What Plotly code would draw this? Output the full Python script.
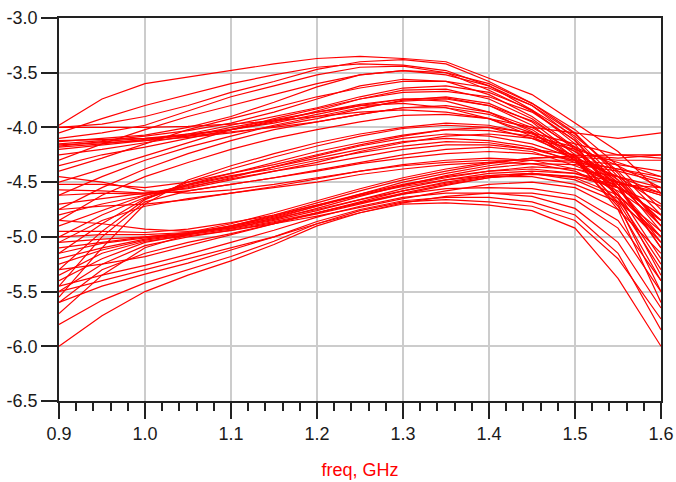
import plotly.graph_objects as go

# Frequency sweep points (GHz)
freq = [0.90, 0.95, 1.00, 1.05, 1.10, 1.15, 1.20, 1.25, 1.30, 1.35, 1.40, 1.45, 1.50, 1.55, 1.60]

# Monte Carlo traces, grouped by where they sit on the plot (dB)
upper_traces = [
    [-3.98, -3.74, -3.60, -3.54, -3.48, -3.42, -3.37, -3.35, -3.37, -3.40, -3.55, -3.70, -3.96, -4.22, -4.60],
    [-4.00, -3.97, -3.90, -3.80, -3.68, -3.58, -3.47, -3.40, -3.38, -3.42, -3.58, -3.78, -4.05, -4.45, -4.90],
    [-4.10, -4.05, -3.98, -3.85, -3.72, -3.62, -3.52, -3.45, -3.44, -3.50, -3.66, -3.85, -4.12, -4.55, -5.10],
    [-4.13, -4.10, -4.07, -4.00, -3.90, -3.77, -3.63, -3.52, -3.48, -3.52, -3.62, -3.80, -4.10, -4.48, -4.95],
    [-4.15, -4.12, -4.08, -4.03, -3.96, -3.86, -3.74, -3.62, -3.56, -3.58, -3.70, -3.90, -4.18, -4.60, -5.20],
    [-4.17, -4.13, -4.10, -4.06, -4.02, -3.95, -3.85, -3.74, -3.66, -3.65, -3.74, -3.92, -4.20, -4.62, -5.35],
    [-4.16, -4.14, -4.12, -4.09, -4.05, -3.99, -3.92, -3.83, -3.75, -3.72, -3.78, -3.95, -4.25, -4.70, -5.50],
    [-4.20, -4.16, -4.12, -4.06, -3.98, -3.90, -3.82, -3.72, -3.64, -3.62, -3.68, -3.84, -4.08, -4.40, -4.80],
    [-4.12, -4.11, -4.10, -4.08, -4.04, -4.00, -3.95, -3.88, -3.82, -3.80, -3.86, -4.00, -4.22, -4.50, -4.85],
    [-4.18, -4.15, -4.11, -4.07, -4.02, -3.96, -3.88, -3.80, -3.74, -3.73, -3.80, -3.98, -4.28, -4.75, -5.60],
    [-4.25, -4.20, -4.14, -4.08, -4.00, -3.93, -3.86, -3.79, -3.74, -3.76, -3.86, -4.04, -4.30, -4.62, -5.00],
    [-4.00, -4.00, -4.00, -3.99, -3.97, -3.94, -3.90, -3.86, -3.84, -3.86, -3.92, -4.00, -4.05, -4.10, -4.05],
    [-4.35, -4.25, -4.18, -4.10, -4.02, -3.94, -3.86, -3.80, -3.78, -3.82, -3.92, -4.08, -4.30, -4.55, -4.80],
    [-4.05, -3.92, -3.80, -3.70, -3.60, -3.52, -3.45, -3.42, -3.43, -3.48, -3.62, -3.84, -4.15, -4.65, -5.25],
]

rising_traces = [
    [-4.30, -4.15, -4.02, -3.90, -3.80, -3.70, -3.60, -3.52, -3.48, -3.50, -3.60, -3.78, -4.02, -4.35, -4.75],
    [-4.40, -4.28, -4.15, -4.02, -3.92, -3.82, -3.72, -3.64, -3.58, -3.58, -3.64, -3.80, -4.06, -4.42, -4.90],
    [-4.50, -4.38, -4.26, -4.14, -4.02, -3.92, -3.83, -3.74, -3.68, -3.67, -3.72, -3.86, -4.12, -4.52, -5.10],
    [-4.62, -4.45, -4.30, -4.18, -4.08, -3.98, -3.90, -3.82, -3.76, -3.74, -3.80, -3.94, -4.18, -4.55, -5.05],
    [-4.75, -4.55, -4.38, -4.24, -4.12, -4.02, -3.95, -3.88, -3.82, -3.82, -3.88, -4.02, -4.28, -4.68, -5.30],
    [-4.85, -4.62, -4.45, -4.32, -4.20, -4.10, -4.02, -3.95, -3.89, -3.88, -3.92, -4.05, -4.30, -4.72, -5.40],
]

middle_traces = [
    [-4.52, -4.52, -4.55, -4.50, -4.42, -4.34, -4.25, -4.16, -4.08, -4.02, -4.00, -4.05, -4.15, -4.25, -4.28],
    [-4.57, -4.58, -4.60, -4.56, -4.48, -4.40, -4.32, -4.22, -4.14, -4.08, -4.06, -4.10, -4.20, -4.32, -4.45],
    [-4.80, -4.70, -4.62, -4.55, -4.46, -4.36, -4.26, -4.17, -4.10, -4.06, -4.08, -4.15, -4.28, -4.45, -4.70],
    [-5.00, -4.80, -4.64, -4.52, -4.42, -4.32, -4.22, -4.14, -4.07, -4.02, -4.03, -4.08, -4.18, -4.35, -4.55],
    [-5.30, -4.95, -4.66, -4.50, -4.38, -4.27, -4.17, -4.08, -4.01, -3.98, -4.00, -4.10, -4.26, -4.52, -4.90],
    [-5.55, -5.10, -4.70, -4.48, -4.35, -4.24, -4.14, -4.06, -4.00, -3.96, -3.98, -4.06, -4.22, -4.48, -4.85],
    [-4.70, -4.65, -4.60, -4.54, -4.47, -4.40, -4.34, -4.27, -4.20, -4.16, -4.16, -4.20, -4.25, -4.28, -4.25],
    [-4.90, -4.76, -4.62, -4.52, -4.44, -4.38, -4.30, -4.23, -4.17, -4.13, -4.14, -4.20, -4.30, -4.45, -4.60],
    [-5.15, -4.88, -4.65, -4.53, -4.45, -4.36, -4.28, -4.20, -4.13, -4.10, -4.12, -4.18, -4.32, -4.55, -5.00],
    [-4.62, -4.60, -4.61, -4.58, -4.52, -4.46, -4.39, -4.32, -4.25, -4.20, -4.18, -4.22, -4.35, -4.50, -4.62],
    [-4.45, -4.50, -4.58, -4.60, -4.57, -4.52, -4.46, -4.40, -4.34, -4.30, -4.28, -4.30, -4.38, -4.50, -4.60],
    [-5.45, -5.00, -4.68, -4.58, -4.52, -4.46, -4.40, -4.33, -4.28, -4.24, -4.22, -4.24, -4.30, -4.38, -4.45],
    [-4.75, -4.72, -4.70, -4.66, -4.60, -4.54, -4.47, -4.40, -4.35, -4.32, -4.30, -4.30, -4.32, -4.38, -4.48],
    [-5.05, -4.85, -4.72, -4.65, -4.60, -4.55, -4.50, -4.43, -4.38, -4.34, -4.32, -4.33, -4.40, -4.58, -4.85],
]

lower_traces = [
    [-4.85, -4.88, -4.93, -4.95, -4.92, -4.85, -4.76, -4.66, -4.56, -4.48, -4.42, -4.40, -4.42, -4.50, -4.62],
    [-5.00, -4.98, -4.98, -4.96, -4.90, -4.82, -4.72, -4.62, -4.53, -4.46, -4.40, -4.36, -4.38, -4.45, -4.55],
    [-5.10, -5.05, -5.00, -4.97, -4.92, -4.84, -4.74, -4.63, -4.53, -4.44, -4.37, -4.33, -4.34, -4.40, -4.50],
    [-5.20, -5.10, -5.02, -4.97, -4.91, -4.83, -4.72, -4.61, -4.50, -4.42, -4.35, -4.30, -4.30, -4.34, -4.40],
    [-5.40, -5.20, -5.05, -4.98, -4.90, -4.80, -4.69, -4.58, -4.48, -4.40, -4.33, -4.28, -4.26, -4.25, -4.25],
    [-5.70, -5.35, -5.10, -4.98, -4.90, -4.81, -4.71, -4.61, -4.52, -4.45, -4.40, -4.38, -4.42, -4.55, -4.80],
    [-5.05, -5.02, -5.00, -4.96, -4.88, -4.78, -4.67, -4.56, -4.46, -4.38, -4.32, -4.28, -4.27, -4.30, -4.30],
    [-5.25, -5.12, -5.03, -4.98, -4.93, -4.86, -4.78, -4.69, -4.60, -4.52, -4.46, -4.43, -4.45, -4.55, -4.72],
    [-5.50, -5.25, -5.08, -5.00, -4.94, -4.87, -4.79, -4.70, -4.61, -4.53, -4.46, -4.42, -4.46, -4.62, -4.95],
    [-4.95, -4.95, -4.96, -4.93, -4.87, -4.80, -4.71, -4.62, -4.54, -4.48, -4.44, -4.42, -4.45, -4.52, -4.55],
    [-5.35, -5.15, -5.04, -4.99, -4.94, -4.88, -4.81, -4.73, -4.65, -4.58, -4.52, -4.50, -4.55, -4.75, -5.15],
    [-5.15, -5.06, -5.01, -4.97, -4.91, -4.83, -4.75, -4.66, -4.58, -4.51, -4.45, -4.45, -4.52, -4.68, -5.00],
    [-5.60, -5.30, -5.15, -5.05, -4.97, -4.88, -4.78, -4.68, -4.58, -4.50, -4.44, -4.42, -4.48, -4.65, -5.05],
]

bottom_traces = [
    [-5.30, -5.25, -5.18, -5.08, -4.98, -4.88, -4.78, -4.69, -4.61, -4.56, -4.55, -4.56, -4.62, -4.85, -5.40],
    [-5.45, -5.35, -5.26, -5.16, -5.05, -4.94, -4.82, -4.72, -4.64, -4.60, -4.60, -4.63, -4.74, -5.05, -5.65],
    [-5.60, -5.45, -5.34, -5.24, -5.12, -5.00, -4.86, -4.75, -4.67, -4.64, -4.64, -4.68, -4.80, -5.15, -5.85],
    [-5.80, -5.58, -5.42, -5.30, -5.18, -5.04, -4.88, -4.76, -4.68, -4.66, -4.68, -4.72, -4.85, -5.20, -5.75],
    [-6.00, -5.72, -5.50, -5.35, -5.22, -5.07, -4.90, -4.78, -4.70, -4.69, -4.71, -4.76, -4.92, -5.38, -6.00],
    [-5.50, -5.40, -5.30, -5.20, -5.10, -5.00, -4.88, -4.78, -4.69, -4.63, -4.60, -4.60, -4.66, -4.92, -5.50],
]

# Axis tick values and their labels
x_ticks = [0.9, 1.0, 1.1, 1.2, 1.3, 1.4, 1.5, 1.6]
x_tick_text = ["0.9", "1.0", "1.1", "1.2", "1.3", "1.4", "1.5", "1.6"]
y_ticks = [-3.0, -3.5, -4.0, -4.5, -5.0, -5.5, -6.0, -6.5]
y_tick_text = ["-3.0", "-3.5", "-4.0", "-4.5", "-5.0", "-5.5", "-6.0", "-6.5"]

fig = go.Figure()
for group in (upper_traces, rising_traces, middle_traces, lower_traces, bottom_traces):
    for trace in group:
        fig.add_trace(go.Scatter(
            x=freq, y=trace, mode="lines",
            line=dict(color="#ff0000", width=1.2),
            showlegend=False, hoverinfo="skip",
        ))

axis_font = dict(family="Liberation Sans, Arial, sans-serif", size=18, color="#1a1a1a")

fig.update_layout(
    width=676, height=482,
    margin=dict(l=59, r=15, t=18, b=81),
    paper_bgcolor="white", plot_bgcolor="white",
    xaxis=dict(
        range=[0.9, 1.6], automargin=False,
        tickvals=x_ticks, ticktext=x_tick_text,
        ticks="outside", ticklen=16, tickwidth=1.5, tickcolor="#222",
        minor=dict(dtick=0.02, tick0=0.9, ticks="outside", ticklen=8,
                   tickwidth=1.5, tickcolor="#222", showgrid=False),
        showgrid=True, gridcolor="#cccccc", gridwidth=1.5,
        showline=True, linecolor="#222", linewidth=1.5, mirror=True,
        zeroline=False, tickfont=axis_font,
        title=dict(text="freq, GHz", standoff=20,
                   font=dict(family="Liberation Sans, Arial, sans-serif", size=18, color="#ff0000")),
    ),
    yaxis=dict(
        range=[-6.5, -3.0], automargin=False,
        tickvals=y_ticks, ticktext=y_tick_text,
        ticks="outside", ticklen=16, tickwidth=1.5, tickcolor="#222",
        showgrid=True, gridcolor="#cccccc", gridwidth=1.5,
        showline=True, linecolor="#222", linewidth=1.5, mirror=True,
        zeroline=False, tickfont=axis_font,
    ),
)

fig.write_html("out.html")
